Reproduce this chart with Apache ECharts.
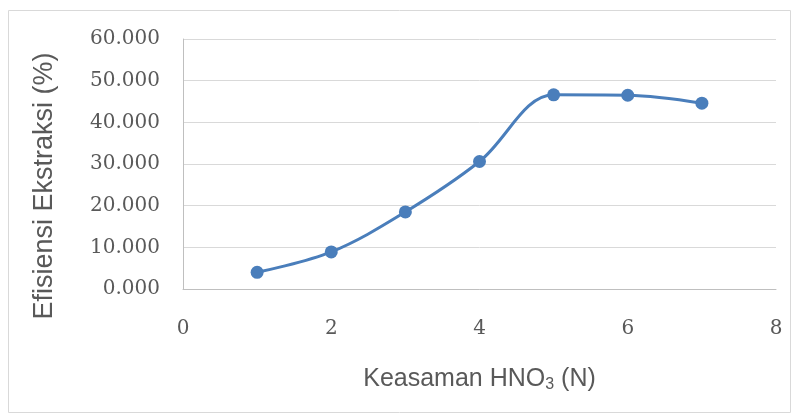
<!DOCTYPE html>
<html>
<head>
<meta charset="utf-8">
<script src="https://cdn.jsdelivr.net/npm/echarts@6/dist/echarts.min.js"></script>
<style>
  html, body { margin: 0; padding: 0; background: #fff; }
  #chart { width: 799px; height: 419px; }
</style>
</head>
<body>
<div id="chart"></div>
<script>
// HNO3 acidity (N) vs extraction efficiency (%)
const acidity = [1, 2, 3, 4, 5, 6, 7]
const efficiency = [4.0, 8.9, 18.5, 30.6, 46.6, 46.5, 44.6]

const chart = echarts.init(document.getElementById('chart'))

const textColor = '#595959'
const lineColor = '#4a7ebb'

chart.setOption({
  animation: false,
  graphic: [
    {
      type: 'rect',
      shape: { x: 8.5, y: 10.5, width: 782, height: 402 },
      style: { fill: 'none', stroke: '#d9d9d9', lineWidth: 1 },
      silent: true,
    },
    {
      // y axis title sits a bit below the plot centre in the original
      type: 'text',
      x: 45,
      y: 186,
      rotation: Math.PI / 2,
      style: {
        text: 'Efisiensi Ekstraksi (%)',
        fontFamily: 'Liberation Sans',
        fontSize: 27,
        fill: textColor,
        align: 'center',
        verticalAlign: 'middle',
      },
      silent: true,
    },
  ],
  grid: {
    left: 183,
    right: 23,
    top: 39,
    bottom: 130,
  },
  xAxis: {
    type: 'value',
    min: 0,
    max: 8,
    interval: 2,
    name: '{t|Keasaman HNO}{s|3}{t| (N)}',
    nameLocation: 'middle',
    nameGap: 76,
    nameTextStyle: {
      rich: {
        t: { fontFamily: 'Liberation Sans', fontSize: 25, color: textColor },
        s: { fontFamily: 'Liberation Sans', fontSize: 16, color: textColor, padding: [12, 0, 0, 0] },
      },
    },
    axisLine: { show: true, lineStyle: { color: '#bfbfbf', width: 1 } },
    axisTick: { show: false },
    splitLine: { show: false },
    axisLabel: {
      margin: 30,
      color: textColor,
      fontFamily: 'DejaVu Serif',
      fontSize: 20,
    },
  },
  yAxis: {
    type: 'value',
    min: 0,
    max: 60,
    interval: 10,
    axisLine: { show: true, lineStyle: { color: '#bfbfbf', width: 1 } },
    axisTick: { show: false },
    splitLine: { lineStyle: { color: '#d9d9d9', width: 1 } },
    axisLabel: {
      margin: 23,
      color: textColor,
      fontFamily: 'DejaVu Serif',
      fontSize: 20,
      formatter: (v) => v.toFixed(3),
    },
  },
  series: [
    {
      type: 'line',
      data: acidity.map((x, i) => [x, efficiency[i]]),
      smooth: 0.35,
      symbol: 'circle',
      symbolSize: 13,
      lineStyle: { color: lineColor, width: 3 },
      itemStyle: { color: lineColor },
    },
  ],
})
</script>
</body>
</html>
